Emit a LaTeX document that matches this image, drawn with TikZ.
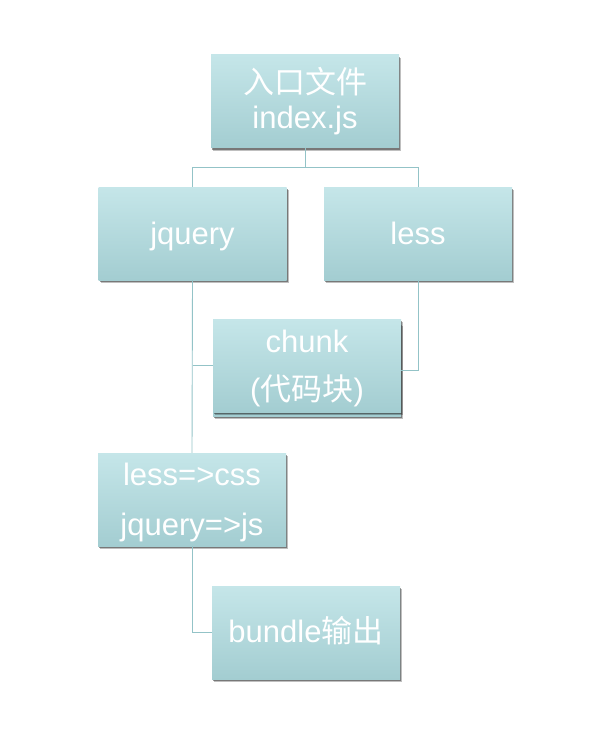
\documentclass[tikz,border=0pt]{standalone}
\usepackage{fontspec}
\setmainfont{Liberation Sans}
\newfontfamily\cjk{Noto Sans CJK SC}
\usetikzlibrary{shadows,calc}
\definecolor{boxtop}{HTML}{C5E6E9}
\definecolor{boxbot}{HTML}{A3CDD1}
\definecolor{linkc}{HTML}{93C3C7}
\tikzset{
  box/.style={rectangle, minimum width=188pt, minimum height=93pt, inner sep=0pt,
    top color=boxtop, bottom color=boxbot, draw=none, text=white, align=center,
    general shadow={shadow xshift=2.2pt, shadow yshift=-3.4pt, opacity=0.25, fill=black},
    general shadow={shadow xshift=1pt, shadow yshift=-1.8pt, opacity=0.5, fill=black!80}},
  oneline/.style={font=\fontsize{31}{35}\selectfont, text height=21pt, text depth=0pt},
  link/.style={draw=linkc, line width=0.9pt}
}
\begin{document}
\begin{tikzpicture}[x=1pt,y=-1pt]
\useasboundingbox (0,0) rectangle (600,746);
\node[box, font=\fontsize{31}{35}\selectfont] (top) at (305,101.5) {{\cjk 入口文件}\\index.js};
\node[box, oneline] (jquery) at (192.5,233.5) {jquery};
\node[box, oneline] (less) at (418,233.5) {less};
\node[box] (chunkback) at (307,369.5) {};
\node[box, font=\fontsize{31}{48}\selectfont] (chunk) at (307,365.5) {\rule{0pt}{28pt}chunk\\({\cjk 代码块})};
\node[box, font=\fontsize{31}{50}\selectfont] (conv) at (192,499.5) {\rule{0pt}{28pt}less=>css\\jquery=>js};
\node[box, oneline, text height=19pt] (bundle) at (306,632.5) {bundle{\cjk 输出}};
\coordinate (fork) at ($(top.south)+(0,19.5)$);
\draw[link] (top.south) -- (fork) -| (jquery.north);
\draw[link] (fork) -| (less.north);
\draw[link] (jquery.south) -- (conv.north);
\draw[link] (jquery.south |- chunk.west) -- (chunk.west);
\coordinate (lessin) at ($(chunk.east)+(0,4.5)$);
\draw[link] (less.south) |- (lessin);
\draw[link] (conv.south) |- (bundle.west);
\end{tikzpicture}
\end{document}
